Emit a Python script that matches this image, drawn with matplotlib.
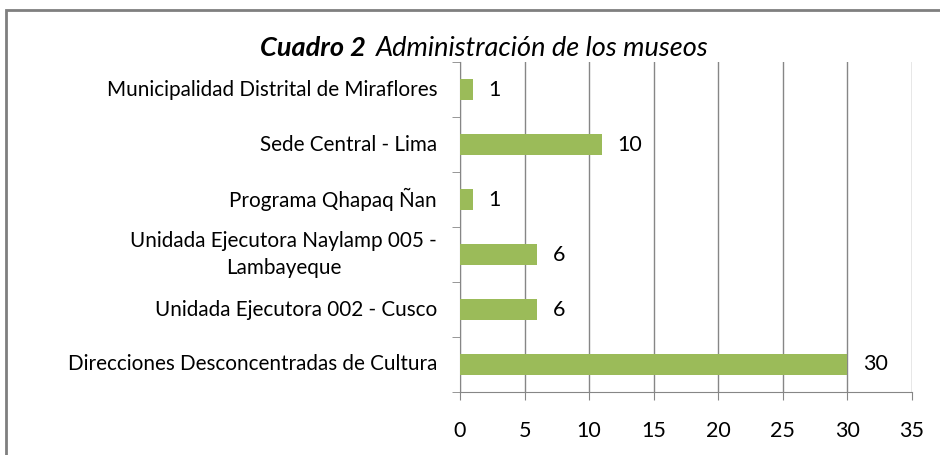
import matplotlib.pyplot as plt
from matplotlib.patches import Rectangle
import numpy as np

# data (top to bottom in the picture)
categories = [
    "Municipalidad Distrital de Miraflores",
    "Sede Central - Lima",
    "Programa Qhapaq Ñan",
    "Unidada Ejecutora Naylamp 005 -\nLambayeque",
    "Unidada Ejecutora 002 - Cusco",
    "Direcciones Desconcentradas de Cultura",
]
# bar lengths as drawn in the source (the "10" bar is drawn to 11)
values = [1, 11, 1, 6, 6, 30]
value_labels = ["1", "10", "1", "6", "6", "30"]
xticks = [0, 5, 10, 15, 20, 25, 30, 35]

plt.rcParams['font.family'] = ['Lato', 'DejaVu Sans']

fig = plt.figure(figsize=(9.4, 4.55), dpi=100)
ax = fig.add_axes([460/940, 1 - 392/455, 452/940, 330/455])

grey = "#868686"
green = "#9BBB59"

# bottom category first
cats = categories[::-1]
vals = values[::-1]
labs = value_labels[::-1]
ypos = np.arange(len(cats))

ax.barh(ypos, vals, height=0.38, color=green, zorder=3)
for y, v, t in zip(ypos, vals, labs):
    ax.annotate(t, xy=(v, y), xytext=(11, 0), textcoords="offset points",
                va="center", ha="left", fontsize=15.5)

# category labels drawn by hand so the two-line one is centred
for y, c in zip(ypos, cats):
    ax.annotate(c, xy=(0, y), xycoords=("axes fraction", "data"),
                xytext=(-16.5, 0), textcoords="offset points",
                ha="right", va="center", multialignment="center",
                fontsize=14.9, linespacing=1.4)

ax.set_xlim(0, 35)
ax.set_ylim(-0.5, len(cats) - 0.5)
ax.set_xticks(xticks)
ax.set_xticklabels([str(t) for t in xticks], fontsize=15.5)
ax.set_yticks([])
ax.set_yticks(np.arange(len(cats) + 1) - 0.5, minor=True)
ax.tick_params(axis="y", which="minor", length=6, color=grey, direction="out")
ax.tick_params(axis="x", length=6, color=grey, direction="out", pad=15)

ax.grid(axis="x", color=grey, linewidth=1, zorder=0)
for s in ["top", "right"]:
    ax.spines[s].set_visible(False)
for s in ["left", "bottom"]:
    ax.spines[s].set_color(grey)

# title in two pieces
fig.text(366/940, 1 - 48/455, "Cuadro 2", fontsize=19.5, fontweight="bold",
         fontstyle="italic", ha="right", va="center")
fig.text(376/940, 1 - 48/455, "Administración de los museos", fontsize=19.5,
         fontstyle="italic", ha="left", va="center")

# chart frame (runs off the right and bottom edges)
fig.patches.append(Rectangle((6/940, -0.1), 1.2, 1 - 10/455 + 0.1,
                             transform=fig.transFigure, fill=False,
                             edgecolor="#7f7f7f", linewidth=2))

fig.savefig("out.png", dpi=100)
